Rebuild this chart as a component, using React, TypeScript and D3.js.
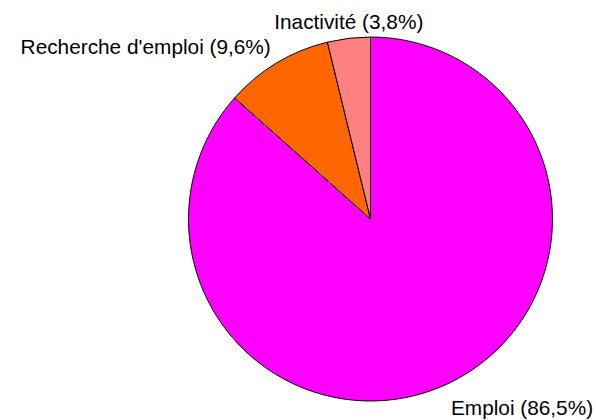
import { useEffect, useRef } from 'react';
import * as d3 from 'd3';

// Répartition par situation
const categories = ['Emploi', "Recherche d'emploi", 'Inactivité'];
const values = [86.5, 9.6, 3.8];
const colors = ['#FF00FF', '#FF6600', '#FF8080'];

interface Slice {
  label: string;
  value: number;
  color: string;
}

const slices: Slice[] = categories.map((label, i) => ({
  label,
  value: values[i],
  color: colors[i],
}));

export default function App() {
  const svgRef = useRef<SVGSVGElement>(null);

  useEffect(() => {
    if (!svgRef.current) return;
    const width = 596;
    const height = 420;
    const cx = 370.5;
    const cy = 219;
    const radius = 182;

    const svg = d3.select(svgRef.current);
    svg.selectAll('*').remove();
    svg.attr('width', width).attr('height', height);

    const g = svg.append('g').attr('transform', `translate(${cx},${cy})`);

    const pie = d3.pie<Slice>().value(d => d.value).sort(null);
    const arc = d3.arc<d3.PieArcDatum<Slice>>().innerRadius(0).outerRadius(radius);
    const arcs = pie(slices);

    g.selectAll('path')
      .data(arcs)
      .enter()
      .append('path')
      .attr('d', arc)
      .attr('fill', d => d.data.color)
      .attr('stroke', '#000')
      .attr('stroke-width', 1)
      .attr('stroke-linejoin', 'round');

    // Labels outside the pie, placed around the outer point of each slice
    const fmt = (v: number) => v.toFixed(1).replace('.', ',');
    g.selectAll('text')
      .data(arcs)
      .enter()
      .append('text')
      .each(function (d) {
        const mid = (d.startAngle + d.endAngle) / 2;
        const px = radius * Math.sin(mid);
        const py = -radius * Math.cos(mid);
        const s = Math.sin(mid);
        const anchor = s > 0.2 ? 'start' : s < -0.2 ? 'end' : 'middle';
        const x = anchor === 'start' ? px + 6 : anchor === 'end' ? px - 6 : px;
        const y = Math.cos(mid) > 0 ? py - 9 : py + 30;
        d3.select(this)
          .attr('x', x)
          .attr('y', y)
          .attr('text-anchor', anchor);
      })
      .text(d => `${d.data.label} (${fmt(d.data.value)}%)`)
      .style('font-family', 'Arial, "Liberation Sans", sans-serif')
      .style('font-size', '20.8px')
      .style('fill', '#000');
  }, []);

  return (
    <svg
      ref={svgRef}
      style={{ position: 'absolute', left: 0, top: 0, background: '#fff' }}
    />
  );
}
